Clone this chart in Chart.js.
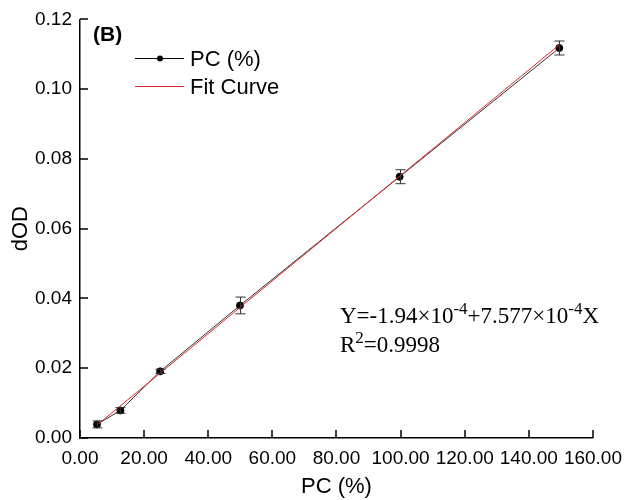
<!DOCTYPE html>
<html>
<head>
<meta charset="utf-8">
<script src="https://cdn.jsdelivr.net/npm/chart.js@4.4.1/dist/chart.umd.min.js"></script>
<style>
  html, body { margin: 0; padding: 0; background: #fff; }
  #wrap { width: 631px; height: 500px; }
</style>
</head>
<body>
<div id="wrap"><canvas id="chart" width="631" height="500"></canvas></div>
<script>
// ---------- Data ----------
const pcValues = [5.3, 12.6, 25.0, 49.9, 99.7, 149.5];
const dodValues = [0.0039, 0.0079, 0.0191, 0.038, 0.0749, 0.1118];
const dodErrors = [0.001, 0.0008, 0.0006, 0.0024, 0.002, 0.002];
const fitX = [5.3, 149.5];
const fitY = [0.0037, 0.1127];
const xTicks = [0, 20, 40, 60, 80, 100, 120, 140, 160];
const yTicks = [0, 0.02, 0.04, 0.06, 0.08, 0.10, 0.12];
const seriesLabels = ["PC (%)", "Fit Curve"];

const SANS = "'Liberation Sans', Arial, sans-serif";
const SERIF = "'Liberation Serif', 'Times New Roman', serif";
const FIT_RED = "#e0262b";

// ---------- Helpers ----------
function pts(xs, ys) { return xs.map((x, i) => ({ x: x, y: ys[i] })) }

// inward tick marks, error bars, legend and text
const extras = {
  id: 'extras',
  afterDatasetsDraw(chart) {
    const ctx = chart.ctx, xs = chart.scales.x, ys = chart.scales.y;
    ctx.save();
    // error bars
    ctx.strokeStyle = '#333';
    ctx.lineWidth = 1;
    pcValues.forEach((x, i) => {
      const px = Math.round(xs.getPixelForValue(x)) + 0.5;
      const top = ys.getPixelForValue(dodValues[i] + dodErrors[i]);
      const bot = ys.getPixelForValue(dodValues[i] - dodErrors[i]);
      ctx.beginPath();
      ctx.moveTo(px, top); ctx.lineTo(px, bot);
      ctx.moveTo(px - 5, top); ctx.lineTo(px + 5, top);
      ctx.moveTo(px - 5, bot); ctx.lineTo(px + 5, bot);
      ctx.stroke();
    });
    ctx.restore();
  },
  afterDraw(chart) {
    const ctx = chart.ctx, xs = chart.scales.x, ys = chart.scales.y;
    const area = chart.chartArea;
    ctx.save();
    // ticks pointing inside
    ctx.strokeStyle = '#000';
    ctx.lineWidth = 1.5;
    ctx.beginPath();
    xTicks.forEach(v => {
      const px = Math.round(xs.getPixelForValue(v));
      ctx.moveTo(px, area.bottom); ctx.lineTo(px, area.bottom - 8);
    });
    yTicks.forEach(v => {
      const py = Math.round(ys.getPixelForValue(v));
      ctx.moveTo(area.left, py); ctx.lineTo(area.left + 8, py);
    });
    ctx.stroke();

    // (B)
    ctx.fillStyle = '#000';
    ctx.textBaseline = 'alphabetic';
    ctx.font = "bold 21px " + SANS;
    ctx.fillText("(B)", 93, 41);

    // legend
    ctx.font = "22px " + SANS;
    ctx.strokeStyle = '#000';
    ctx.lineWidth = 1;
    ctx.beginPath(); ctx.moveTo(135, 58.5); ctx.lineTo(184, 58.5); ctx.stroke();
    ctx.beginPath(); ctx.arc(160, 58.5, 3, 0, Math.PI * 2); ctx.fill();
    ctx.fillText(seriesLabels[0], 190, 66);
    ctx.strokeStyle = FIT_RED;
    ctx.beginPath(); ctx.moveTo(135, 86.5); ctx.lineTo(184, 86.5); ctx.stroke();
    ctx.fillText(seriesLabels[1], 190, 94);

    // fit equation
    const parts = [
      ["Y=-1.94\u00d710", 0], ["-4", 1], ["+7.577\u00d710", 0], ["-4", 1], ["X", 0]
    ];
    let x = 340;
    parts.forEach(p => {
      ctx.font = (p[1] ? "17px " : "23px ") + SERIF;
      ctx.fillText(p[0], x, p[1] ? 314 : 323);
      x += ctx.measureText(p[0]).width;
    });
    x = 340;
    [["R", 0], ["2", 1], ["=0.9998", 0]].forEach(p => {
      ctx.font = (p[1] ? "17px " : "23px ") + SERIF;
      ctx.fillText(p[0], x, p[1] ? 343 : 352);
      x += ctx.measureText(p[0]).width;
    });
    ctx.restore();
  }
};

// ---------- Chart ----------
new Chart(document.getElementById('chart'), {
  type: 'scatter',
  data: {
    datasets: [{
      label: seriesLabels[1],
      data: pts(fitX, fitY),
      showLine: true,
      borderColor: FIT_RED,
      borderWidth: 1,
      pointRadius: 0,
      order: 0
    }, {
      label: seriesLabels[0],
      data: pts(pcValues, dodValues),
      showLine: true,
      borderColor: '#333',
      borderWidth: 1,
      pointRadius: 3.5,
      pointBackgroundColor: '#000',
      pointBorderColor: '#000',
      order: 1
    }]
  },
  plugins: [extras],
  options: {
    responsive: false,
    animation: false,
    layout: { padding: { left: 8, top: 18, right: 33, bottom: 0 } },
    plugins: { legend: { display: false }, tooltip: { enabled: false } },
    scales: {
      x: {
        type: 'linear', min: 0, max: 160,
        afterBuildTicks: s => { s.ticks = xTicks.map(v => ({ value: v })) },
        afterFit: s => { s.height = 62 },
        grid: { display: true, drawOnChartArea: false, drawTicks: false },
        border: { display: true, color: '#000', width: 1.5 },
        ticks: {
          color: '#000', padding: 9, maxRotation: 0, autoSkip: false,
          font: { family: SANS, size: 19 },
          callback: v => v.toFixed(2)
        },
        title: {
          display: true, text: 'PC (%)', color: '#000',
          font: { family: SANS, size: 22 }, padding: { top: 2, bottom: 0 }
        }
      },
      y: {
        type: 'linear', min: 0, max: 0.12,
        afterBuildTicks: s => { s.ticks = yTicks.map(v => ({ value: v })) },
        afterFit: s => { s.width = 72 },
        grid: { display: true, drawOnChartArea: false, drawTicks: false },
        border: { display: true, color: '#000', width: 1.5 },
        ticks: {
          color: '#000', padding: 8,
          font: { family: SANS, size: 19 },
          callback: v => v.toFixed(2)
        },
        title: {
          display: true, text: 'dOD', color: '#000',
          font: { family: SANS, size: 22 }, padding: { top: 0, bottom: 2 }
        }
      }
    }
  }
});
</script>
</body>
</html>
